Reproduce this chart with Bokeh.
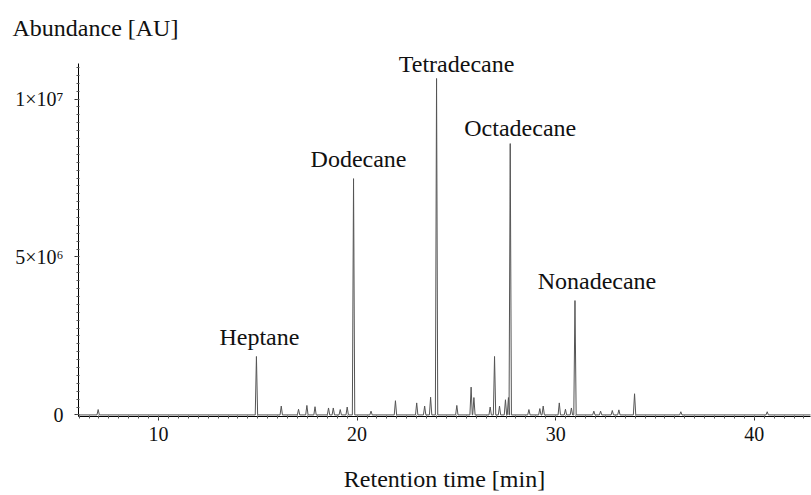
import numpy as np
from bokeh.plotting import figure
from bokeh.models import FixedTicker, Label, Range1d
from bokeh.embed import file_html
from bokeh.resources import INLINE

# Retention times [min] and heights [AU] of the detected peaks
peak_times = [6.96, 14.93, 16.18, 17.05, 17.47, 17.88, 18.56, 18.80, 19.15, 19.50,
              19.82, 20.70, 21.93, 23.00, 23.40, 23.70, 24.00, 25.02, 25.74, 25.88,
              26.70, 26.92, 27.17, 27.47, 27.62, 27.71, 28.65, 29.20, 29.37, 30.18,
              30.49, 30.79, 30.97, 31.92, 32.26, 32.85, 33.18, 33.97, 36.30, 40.65]
peak_heights = [0.17e6, 1.85e6, 0.28e6, 0.18e6, 0.30e6, 0.26e6, 0.22e6, 0.22e6, 0.17e6, 0.25e6,
                7.48e6, 0.12e6, 0.45e6, 0.38e6, 0.28e6, 0.56e6, 10.65e6, 0.30e6, 0.88e6, 0.55e6,
                0.25e6, 1.85e6, 0.28e6, 0.48e6, 0.55e6, 8.59e6, 0.17e6, 0.20e6, 0.28e6, 0.38e6,
                0.18e6, 0.22e6, 3.62e6, 0.12e6, 0.12e6, 0.14e6, 0.16e6, 0.67e6, 0.10e6, 0.10e6]

# Named compounds
compounds = ["Heptane", "Dodecane", "Tetradecane", "Octadecane", "Nonadecane"]
compound_times = [14.93, 19.82, 24.00, 27.71, 30.97]

y_ticks = [0, 5e6, 1e7]
y_tick_labels = ["0", "5×10⁶", "1×10⁷"]
x_ticks = [10, 20, 30, 40]

FONT = "Liberation Serif"

# Build the trace: each peak rises from baseline to its apex and back
half_w = 0.06
t_start, t_end = 6.0, 42.9
xs, ys = [t_start], [0.0]
for t, h in zip(peak_times, peak_heights):
    xs += [t - half_w, t, t + half_w]
    ys += [0.0, h, 0.0]
xs.append(t_end)
ys.append(0.0)

y_lo, y_axis_top = -0.05e6, 11.12e6

p = figure(width=811, height=495, output_backend="svg", toolbar_location=None,
           x_range=Range1d(5.97, 42.83), y_range=Range1d(y_lo, 11.79e6),
           min_border_left=78, min_border_right=1, min_border_top=42, min_border_bottom=79)
p.outline_line_color = None
p.xgrid.visible = False
p.ygrid.visible = False
p.background_fill_color = "white"

# Y-axis title set horizontally above the axis
p.title.text = "Abundance [AU]"
p.title.align = "left"
p.title.offset = -66
p.title.standoff = 4
p.title.text_font = FONT
p.title.text_font_size = "24px"
p.title.text_font_style = "normal"
p.title.text_color = "#111111"

p.line(xs, ys, line_color="#555555", line_width=1)

# Axes
p.xaxis.ticker = FixedTicker(ticks=x_ticks, minor_ticks=list(np.arange(6.0, 43.0, 0.5)))
p.yaxis.ticker = FixedTicker(ticks=y_ticks, minor_ticks=list(np.arange(0, 11.2e6, 0.25e6)))
p.yaxis.major_label_overrides = {v: s for v, s in zip(y_ticks, y_tick_labels)}
p.yaxis.bounds = (y_lo, y_axis_top)
p.xaxis.axis_label = "Retention time [min]"

for ax in (p.xaxis[0], p.yaxis[0]):
    ax.axis_line_color = "black"
    ax.axis_line_width = 1
    ax.major_tick_line_color = "#333333"
    ax.minor_tick_line_color = "#555555"
    ax.major_tick_in = 0
    ax.major_tick_out = 4
    ax.minor_tick_in = 1
    ax.minor_tick_out = 2
    ax.major_label_text_font = FONT
    ax.major_label_text_font_size = "20px"
    ax.major_label_text_color = "#111111"
    ax.major_label_text_line_height = 1.0
    ax.axis_label_text_font = FONT
    ax.axis_label_text_font_size = "24px"
    ax.axis_label_text_font_style = "normal"
    ax.axis_label_text_color = "#111111"
    ax.axis_label_text_line_height = 1.0

p.xaxis.major_label_standoff = 6
p.xaxis.axis_label_standoff = 22
p.yaxis.major_label_standoff = 11

# Compound names above their peaks
label_dx = [3, 5, 20, 10, 22]
label_dy = [19, 20, 15, 16, 20]
height_of = dict(zip(peak_times, peak_heights))
for name, t, dx, dy in zip(compounds, compound_times, label_dx, label_dy):
    p.add_layout(Label(x=t, y=height_of[t], x_offset=dx, y_offset=dy, text=name,
                       text_font=FONT, text_font_size="24px", text_color="#111111",
                       text_align="center", text_baseline="middle"))

open("out.html", "w").write(file_html(p, INLINE))
